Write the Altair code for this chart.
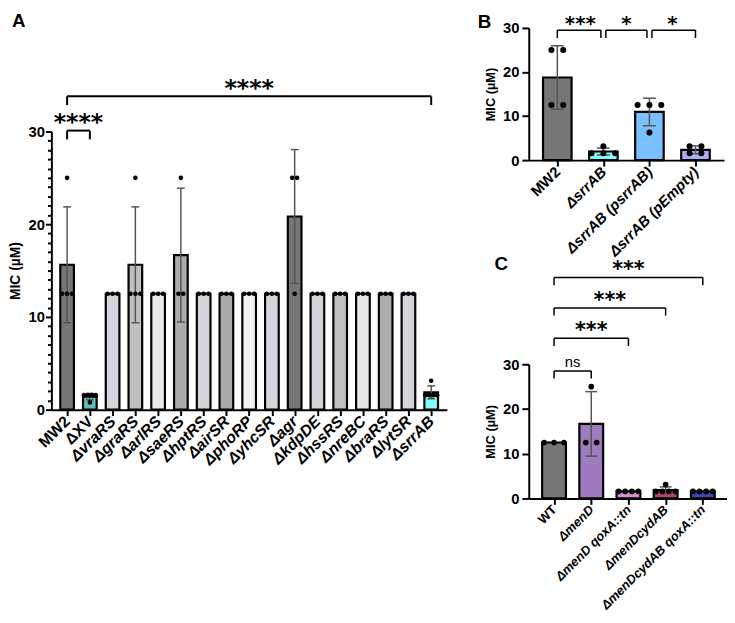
import json
import altair as alt
import pandas as pd

FONT = "Liberation Sans"
STAR_FONT = "DejaVu Sans"

# ---------------- data ----------------
A_labels = ["MW2", "ΔXV", "ΔvraRS", "ΔgraRS", "ΔarlRS", "ΔsaeRS", "ΔhptRS", "ΔairSR",
            "ΔphoRP", "ΔyhcSR", "Δagr", "ΔkdpDE", "ΔhssRS", "ΔnreBC", "ΔbraRS", "ΔlytSR", "ΔsrrAB"]
A_values = [
    [12.5, 12.5, 12.5, 25],
    [1.56, 1.56, 1.56, 1.56, 0.78],
    [12.5, 12.5, 12.5],
    [12.5, 12.5, 12.5, 25],
    [12.5, 12.5, 12.5],
    [12.5, 12.5, 25],
    [12.5, 12.5, 12.5],
    [12.5, 12.5, 12.5],
    [12.5, 12.5, 12.5],
    [12.5, 12.5, 12.5],
    [12.5, 25, 25],
    [12.5, 12.5, 12.5],
    [12.5, 12.5, 12.5],
    [12.5, 12.5, 12.5],
    [12.5, 12.5, 12.5],
    [12.5, 12.5, 12.5],
    [1.56, 1.56, 1.56, 1.56, 3.12],
]
A_colors = ["#767676", "#62bcbc", "#d4d4da", "#c0c0c0", "#e8e8e8", "#acacac", "#d4d4da", "#acacac",
            "#f2f2f2", "#d4d4da", "#767676", "#d4d4da", "#c0c0c0", "#e8e8e8", "#acacac", "#d4d4da", "#7ffcfc"]
A_comparisons = [(0, 1, "****"), (0, 16, "****")]

B_labels = ["MW2", "ΔsrrAB", "ΔsrrAB (psrrAB)", "ΔsrrAB (pEmpty)"]
B_values = [
    [12.5, 12.5, 25, 25],
    [1.56, 1.56, 1.56, 3.12],
    [12.5, 12.5, 12.5, 6.25],
    [1.56, 1.56, 3.12, 3.12],
]
B_colors = ["#767676", "#7ffcfc", "#7abfff", "#adadf6"]
B_comparisons = [(0, 1, "***"), (1, 2, "*"), (2, 3, "*")]

C_labels = ["WT", "ΔmenD", "ΔmenD qoxA::tn", "ΔmenDcydAB", "ΔmenDcydAB qoxA::tn"]
C_values = [
    [12.5, 12.5, 12.5],
    [12.5, 12.5, 25],
    [1.56, 1.56, 1.56, 1.56],
    [1.56, 1.56, 1.56, 1.56, 3.12],
    [1.56, 1.56, 1.56, 1.56],
]
C_colors = ["#767676", "#9d7cc0", "#d98fd2", "#b3426f", "#3f45b0"]
C_comparisons = [(0, 1, "ns"), (0, 2, "***"), (0, 3, "***"), (0, 4, "***")]


def letter_title(letter, dx, dy):
    return alt.TitleParams(letter, anchor="start", font=FONT, fontSize=19, fontWeight="bold",
                           color="black", baseline="alphabetic", offset=0, dx=dx, dy=dy)


def make_panel(labels, values, colors, comparisons, *, width, height, xdom,
               bar_hw, cap_hw, dot_size, dot_gap, dot_span, levels, drop, text_gap,
               star_size, tick_label_size, x_label_size, title_size, minor,
               italic_from, bracket_w, ytick, ylabpad, ytitlepad, title=None):
    step = width / (xdom[1] - xdom[0])
    prow = []
    for i, (vals, col) in enumerate(zip(values, colors)):
        counts = {}
        for v in vals:
            counts[v] = counts.get(v, 0) + 1
        seen = {}
        for v in vals:
            k = counts[v]
            j = seen.get(v, 0)
            seen[v] = j + 1
            gap = min(dot_gap, dot_span / (k - 1)) if k > 1 else 0
            off = (j - (k - 1) / 2) * gap / step
            prow.append({"idx": i, "value": v, "xp": i + off, "color": col})
    df = pd.DataFrame(prow)

    xs = alt.Scale(domain=xdom, nice=False, zero=False)
    ys = alt.Scale(domain=[0, 30], nice=False)
    names = json.dumps(labels, ensure_ascii=False)

    xaxis = alt.Axis(
        values=list(range(len(labels))), labelExpr=f"{names}[datum.value]", title=None,
        grid=False, labelAngle=-45, labelAlign="right", labelBaseline="middle",
        labelFont=FONT, labelFontWeight="bold", labelFontSize=x_label_size, labelColor="black",
        labelFontStyle={"condition": {"test": f"datum.value >= {italic_from}", "value": "italic"}, "value": "normal"},
        labelOverlap=False, labelFlush=False, labelPadding=3,
        tickSize=6, tickWidth=2, tickColor="black", domainColor="black", domainWidth=2,
    )
    if minor:
        yvals = list(range(0, 31))
        ytk = {"condition": {"test": "datum.value % 10 === 0", "value": ytick}, "value": 4}
        lexpr = "datum.value % 10 === 0 ? datum.label : ''"
    else:
        yvals = [0, 10, 20, 30]
        ytk = ytick
        lexpr = "datum.label"
    yaxis = alt.Axis(
        values=yvals, labelExpr=lexpr, title="MIC (µM)", grid=False,
        labelFont=FONT, labelFontWeight="bold", labelFontSize=tick_label_size, labelColor="black",
        labelOverlap=False, labelFlush=False, labelPadding=ylabpad,
        titleFont=FONT, titleFontWeight="bold", titleFontSize=title_size, titleColor="black",
        titlePadding=ytitlepad,
        tickSize=ytk, tickWidth=2, tickColor="black", domainColor="black", domainWidth=2,
    )

    def X(f):
        return alt.X(f, scale=xs, axis=xaxis)

    def Y(f):
        return alt.Y(f, scale=ys, axis=yaxis)

    base = alt.Chart(df)
    stats = base.transform_aggregate(
        mean="mean(value)", sd="stdev(value)", groupby=["idx", "color"]
    ).transform_calculate(
        x0=f"datum.idx - {bar_hw}", x1=f"datum.idx + {bar_hw}",
        lo="datum.mean - datum.sd", hi="datum.mean + datum.sd",
        cl=f"datum.idx - {cap_hw}", cr=f"datum.idx + {cap_hw}",
    )
    bars = stats.mark_bar(stroke="black", strokeWidth=2.2).encode(
        x=X("x0:Q"), x2="x1:Q", y=Y("mean:Q"), y2=alt.datum(0),
        color=alt.Color("color:N", scale=None),
    )
    errs = stats.transform_filter("datum.sd > 0")
    err_v = errs.mark_rule(color="#555", strokeWidth=1.5).encode(
        x=X("idx:Q"), y=Y("lo:Q"), y2="hi:Q")
    cap_hi = errs.mark_rule(color="#555", strokeWidth=1.5).encode(
        x=X("cl:Q"), x2="cr:Q", y=Y("hi:Q"))
    cap_lo = errs.mark_rule(color="#555", strokeWidth=1.5).encode(
        x=X("cl:Q"), x2="cr:Q", y=Y("lo:Q"))
    pts = base.mark_circle(size=dot_size, color="black", opacity=1).encode(
        x=X("xp:Q"), y=Y("value:Q"))

    # brackets: ends that meet another bracket are pulled in slightly
    inset = 2.5 / step
    ends = {}
    for a, b, _ in comparisons:
        ends.setdefault(a, set()).add("L")
        ends.setdefault(b, set()).add("R")
    crow = []
    for (a, b, lab), lev in zip(comparisons, levels):
        xa = a + (inset if "R" in ends[a] else 0)
        xb = b - (inset if "L" in ends[b] else 0)
        crow.append({"a": xa, "b": xb, "mid": (a + b) / 2, "lab": lab, "top": lev,
                     "bot": lev - drop, "ty": lev + text_gap * (3 if lab == "ns" else 1),
                     "ns": lab == "ns"})
    cdf = pd.DataFrame(crow)
    cb = alt.Chart(cdf)
    br_h = cb.mark_rule(color="black", strokeWidth=bracket_w, clip=False).encode(
        x=X("a:Q"), x2="b:Q", y=Y("top:Q"))
    br_l = cb.mark_rule(color="black", strokeWidth=bracket_w, clip=False).encode(
        x=X("a:Q"), y=Y("bot:Q"), y2="top:Q")
    br_r = cb.mark_rule(color="black", strokeWidth=bracket_w, clip=False).encode(
        x=X("b:Q"), y=Y("bot:Q"), y2="top:Q")
    stars = cb.transform_filter("!datum.ns").mark_text(
        font=STAR_FONT, fontWeight="bold", fontSize=star_size, baseline="alphabetic",
        color="black", clip=False).encode(
        x=X("mid:Q"), y=Y("ty:Q"), text="lab:N")
    ns = cb.transform_filter("datum.ns").mark_text(
        font=FONT, fontSize=15, baseline="alphabetic", color="black", clip=False).encode(
        x=X("mid:Q"), y=Y("ty:Q"), text="lab:N")

    props = dict(width=width, height=height)
    if title is not None:
        props["title"] = title
    return alt.layer(bars, err_v, cap_hi, cap_lo, pts, br_h, br_l, br_r, stars, ns).properties(**props)


panelA = make_panel(
    A_labels, A_values, A_colors, A_comparisons,
    width=401, height=282, xdom=[-0.69, 16.69], bar_hw=0.30, cap_hw=0.17,
    dot_size=22, dot_gap=5, dot_span=12, levels=[30.1, 33.8], drop=0.95, text_gap=0.05,
    star_size=24, tick_label_size=15, x_label_size=16, title_size=14, minor=True,
    italic_from=2, bracket_w=2, ytick=6, ylabpad=1, ytitlepad=6,
)
panelB = make_panel(
    B_labels, B_values, B_colors, B_comparisons,
    width=198, height=134, xdom=[-0.62, 3.62], bar_hw=0.31, cap_hw=0.14,
    dot_size=38, dot_gap=12, dot_span=26, levels=[29.5, 29.5, 29.5], drop=1.8, text_gap=0.05,
    star_size=20, tick_label_size=15, x_label_size=15, title_size=13, minor=False,
    italic_from=1, bracket_w=1.5, ytick=7, ylabpad=3, ytitlepad=5,
    title=letter_title("B", -7, 33),
)
panelC = make_panel(
    C_labels, C_values, C_colors, C_comparisons,
    width=201, height=136, xdom=[-0.68, 4.65], bar_hw=0.32, cap_hw=0.16,
    dot_size=33, dot_gap=11, dot_span=20, levels=[28.5, 35.8, 42.6, 49.4], drop=1.7, text_gap=0.3,
    star_size=21, tick_label_size=15, x_label_size=13, title_size=13, minor=False,
    italic_from=1, bracket_w=1.5, ytick=7, ylabpad=3, ytitlepad=5,
    title=letter_title("C", 10, 30),
)

# empty holder carrying the "A" panel letter so that panel A can sit lower than panel B
spacer = alt.Chart(pd.DataFrame({"v": [0]})).mark_point(opacity=0, size=0).encode(
    x=alt.X("v:Q", axis=None), y=alt.Y("v:Q", axis=None)
).properties(width=1, height=1, title=letter_title("A", -40, 18))

left = alt.vconcat(spacer, panelA, spacing=104, bounds="flush")
right = alt.vconcat(panelB, panelC, spacing=207, bounds="flush")

chart = alt.hconcat(left, right, spacing=31).properties(padding=0).configure_view(stroke=None)

chart.save("out.html", embed_options={"renderer": "svg", "actions": False})
